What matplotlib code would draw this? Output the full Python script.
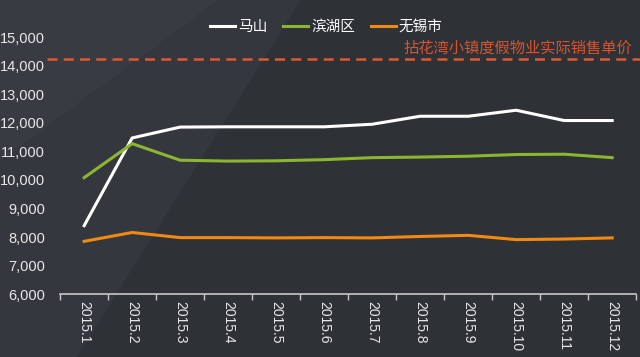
import matplotlib
matplotlib.use("Agg")
import matplotlib.pyplot as plt
from matplotlib.patches import Polygon
from matplotlib.ticker import FuncFormatter, FixedLocator

categories = ["2015.1", "2015.2", "2015.3", "2015.4", "2015.5", "2015.6",
              "2015.7", "2015.8", "2015.9", "2015.10", "2015.11", "2015.12"]
mashan = [8400, 11470, 11850, 11860, 11860, 11860, 11950, 12230, 12230, 12440, 12080, 12080]
binhu = [10080, 11270, 10690, 10660, 10670, 10710, 10780, 10800, 10830, 10890, 10900, 10780]
wuxi = [7850, 8160, 7980, 7980, 7970, 7980, 7970, 8020, 8060, 7910, 7930, 7970]
series_names = ["马山", "滨湖区", "无锡市"]
ref_value = 14220
ref_label = "拈花湾小镇度假物业实际销售单价"
yticks = [6000, 7000, 8000, 9000, 10000, 11000, 12000, 13000, 14000, 15000]

plt.rcParams["font.family"] = ["Liberation Sans", "Noto Sans CJK SC", "DejaVu Sans"]
cjk = ["Noto Sans CJK SC", "DejaVu Sans"]

fig = plt.figure(figsize=(6.4, 3.57), dpi=100)
bg = "#2e3136"
fig.patch.set_facecolor(bg)
fig.patches.append(Polygon([[0.0, 0.0], [0.0, 1.0], [0.47, 1.0], [0.12, 0.0]],
                           closed=True, transform=fig.transFigure,
                           facecolor="#34373d", edgecolor="none", zorder=-1))
fig.patches.append(Polygon([[0.0, 0.55], [0.0, 1.0], [0.34, 1.0]],
                           closed=True, transform=fig.transFigure,
                           facecolor="#383b41", edgecolor="none", zorder=-1))

ax = fig.add_axes([0.094, 0.176, 0.9, 0.72])
ax.set_facecolor("none")

x = list(range(len(categories)))
ax.plot(x, mashan, color="#ffffff", lw=2.2, label=series_names[0], zorder=3)
ax.plot(x, binhu, color="#8db52f", lw=2.2, label=series_names[1], zorder=3)
ax.plot(x, wuxi, color="#f08a12", lw=2.2, label=series_names[2], zorder=3)

ax.axhline(ref_value, xmin=-0.023, xmax=1.01, color="#e0582f", lw=1.8,
           ls=(0, (4, 2.5)), clip_on=False, zorder=2)
ax.text(0.993, 14620, ref_label, transform=ax.get_yaxis_transform(),
        ha="right", va="center", color="#d9532f", fontsize=11, family=cjk)

ax.set_xlim(-0.5, len(categories) - 0.5)
ax.set_ylim(6000, 15000)
ax.set_yticks(yticks)
ax.yaxis.set_major_formatter(FuncFormatter(lambda v, p: f"{int(v):,}"))
ax.tick_params(axis="y", length=0, pad=11, labelcolor="#e8e8e8", labelsize=10.5)

ax.xaxis.set_major_locator(FixedLocator([i - 0.5 for i in range(len(categories) + 1)]))
ax.xaxis.set_minor_locator(FixedLocator(x))
ax.set_xticklabels([], minor=False)
ax.set_xticklabels(categories, minor=True, rotation=-90,
                   fontsize=10, color="#e8e8e8", va="top", ha="center")
ax.tick_params(axis="x", which="major", length=4, color="#c8c8c8", width=1)
ax.tick_params(axis="x", which="minor", length=0, pad=5)

for s in ["top", "right", "left"]:
    ax.spines[s].set_visible(False)
ax.spines["bottom"].set_color("#c8c8c8")
ax.spines["bottom"].set_linewidth(1.2)

leg = fig.legend(loc="center", bbox_to_anchor=(0.51, 0.925), ncol=3, frameon=False,
                 handlelength=1.7, handletextpad=0.2, columnspacing=1.1,
                 prop={"family": cjk, "size": 10.5})
for t in leg.get_texts():
    t.set_color("#ffffff")

fig.savefig("out.png", dpi=100, facecolor=fig.get_facecolor())
